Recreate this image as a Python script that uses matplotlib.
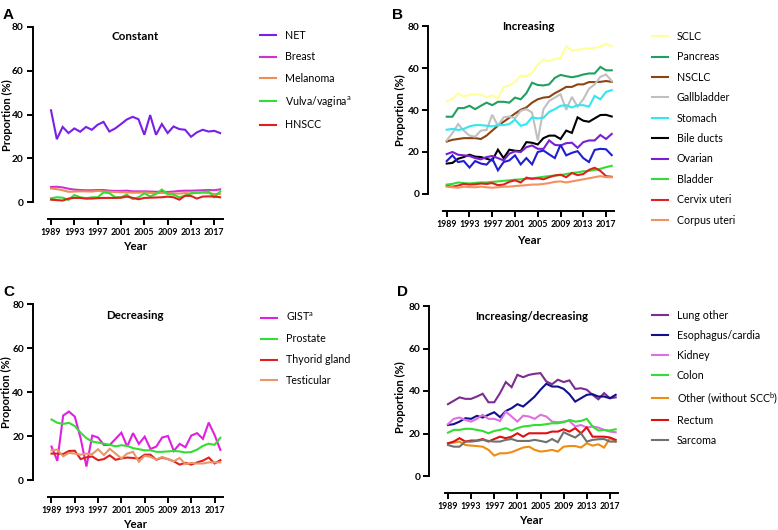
import matplotlib
matplotlib.use("Agg")
import matplotlib.pyplot as plt
import numpy as np

plt.rcParams['font.family'] = ['Lato', 'DejaVu Sans']
plt.rcParams['mathtext.fontset'] = 'custom'
plt.rcParams['mathtext.rm'] = 'Lato'
plt.rcParams['mathtext.it'] = 'Lato'

years = list(range(1989, 2019))
xticks = list(range(1989, 2018, 4))
yticks = [0, 20, 40, 60, 80]

# ---- Panel A: Constant ----
a_labels = ["NET", "Breast", "Melanoma", r"Vulva/vagina$^\mathrm{a}$", "HNSCC"]
a_net = [42, 28.8, 34.4, 31.6, 33.7, 32.2, 34.4, 33.1, 35.4, 36.7, 32.3, 33.7, 35.7, 37.8, 39,
         37.9, 30.8, 39.8, 30.8, 35.7, 31.6, 34.6, 33.4, 33.1, 29.9, 31.9, 33.1, 32.3, 32.6, 31.6]
a_breast = [7.0, 7.1, 6.8, 6.2, 5.8, 5.6, 5.5, 5.5, 5.6, 5.6, 5.3, 5.2, 5.2, 5.3, 5.0,
            5.0, 5.0, 4.9, 4.8, 4.8, 4.7, 4.9, 5.2, 5.3, 5.3, 5.4, 5.5, 5.6, 5.5, 5.9]
a_melanoma = [6.3, 6.0, 5.5, 4.8, 4.9, 5.0, 5.0, 4.9, 5.2, 5.0, 4.8, 4.7, 4.6, 4.5, 4.4,
              4.4, 4.5, 4.3, 4.2, 4.3, 4.1, 4.0, 4.0, 4.2, 4.0, 4.3, 4.5, 4.2, 3.8, 3.9]
a_vulva = [1.8, 2.3, 2.1, 1.1, 3.3, 2.3, 1.8, 2.3, 2.3, 4.5, 4.2, 2.3, 2.3, 3.5, 1.5,
           2.3, 4.1, 2.7, 3.8, 5.8, 3.8, 3.5, 2.3, 3.0, 4.1, 4.4, 4.5, 5.0, 2.3, 5.0]
a_hnscc = [1.2, 1.0, 0.8, 1.7, 2.0, 2.0, 1.7, 1.7, 1.9, 2.0, 2.0, 2.0, 2.1, 2.6, 2.0,
           1.4, 2.0, 2.1, 2.2, 2.3, 2.6, 2.3, 1.2, 3.0, 2.9, 1.7, 2.6, 2.7, 2.6, 2.3]
a_series = [a_net, a_breast, a_melanoma, a_vulva, a_hnscc]
a_colors = ["#7a1fe6", "#cc33cc", "#f08c5a", "#33dd33", "#e02020"]

# ---- Panel B: Increasing ----
b_labels = ["SCLC", "Pancreas", "NSCLC", "Gallbladder", "Stomach", "Bile ducts",
            "Ovarian", None, "Bladder", "Cervix uteri", "Corpus uteri"]
b_sclc = [44, 45.4, 47.8, 46.4, 47.2, 47.5, 47.3, 46.2, 47.0, 45.4, 51, 51.7, 53.3, 56.4, 56.1,
          57.7, 61.6, 64, 63.2, 64.3, 64.8, 70.3, 68.2, 68.7, 69.2, 69.3, 69.5, 70.3, 71.5, 70.3]
b_pancreas = [36.8, 36.8, 40.9, 40.9, 42, 40.4, 42, 43.5, 42.3, 43.9, 43.9, 43.5, 45.9, 45.1, 48,
              53, 51.9, 51.7, 52.2, 55.3, 56.7, 56.1, 55.6, 56.1, 56.9, 57.4, 57.4, 60.5, 58.9, 58.9]
b_nsclc = [25, 25.8, 26.2, 26.6, 26.6, 26.6, 26.2, 27.8, 30.2, 32.5, 34.4, 36.3, 38.3, 40.1, 41.2,
           43.5, 45.1, 45.9, 46.2, 48, 49.4, 51, 51, 52.2, 52.2, 53.3, 53.3, 53.4, 53.8, 53.4]
b_gall = [25.5, 29, 33.3, 30.2, 27.8, 27.3, 30.2, 30.5, 37.7, 32.5, 36.5, 36.9, 36.1, 39.6, 40.4,
          38.8, 25.5, 40.4, 44.3, 45.9, 47.5, 40.1, 46.2, 41.6, 45.1, 50.1, 52.2, 55.8, 56.9, 53.8]
b_stomach = [30.6, 31, 30.5, 31, 32.2, 32.8, 32.8, 32.5, 32.2, 32.8, 32.8, 33.3, 35.4, 32.5, 33.3,
             36.5, 36, 36.3, 39.1, 40.4, 42, 42.3, 41.2, 42.3, 42.3, 41.6, 46.7, 45.1, 48.6, 49.5]
b_bile = [14.5, 14.8, 16.8, 17.6, 18.7, 17.8, 17.6, 16.8, 16, 21.1, 17.1, 21.1, 20.6, 20.4, 24.7,
          24.4, 23.6, 26.6, 27.8, 27.8, 26.2, 30.2, 29.1, 36.5, 34.9, 34.4, 36, 37.6, 37.7, 36.9]
b_ovarian = [19, 20, 18.7, 18.4, 18.1, 17.1, 16.5, 17.6, 18.1, 17.1, 16, 19.2, 20.3, 20, 22.3,
             23.1, 21.5, 21.5, 25.5, 23.4, 23.1, 24.2, 24.4, 22, 24.7, 25.5, 25.5, 28.1, 26.2, 28.6]
b_blue = [15.7, 18.4, 15.2, 15.7, 12.6, 15.7, 14.5, 14, 16.8, 11.3, 15.2, 16, 18.4, 14.1, 17.1,
          14.1, 20, 20.7, 18.9, 17.1, 23.4, 18.4, 19.6, 20.4, 17.1, 15.2, 21.0, 21.5, 21.3, 18.5]
b_bladder = [4.5, 4.8, 5.5, 5.2, 5.0, 5.3, 5.5, 5.5, 5.8, 6.0, 6.3, 6.5, 6.8, 7.0, 7.2,
             7.5, 7.8, 8.2, 8.5, 8.8, 9.0, 9.5, 10.0, 10.3, 10.8, 11.0, 11.5, 12.0, 12.8, 13.4]
b_cervix = [3.8, 3.5, 4.0, 4.8, 4.5, 4.6, 5.0, 4.8, 5.2, 4.2, 4.5, 5.8, 6.5, 5.5, 7.8,
            7.2, 7.5, 7.0, 8.0, 8.8, 9.2, 8.0, 10.0, 9.0, 9.5, 11.5, 12.5, 11.0, 8.5, 8.2]
b_corpus = [3.5, 3.2, 3.0, 3.5, 3.3, 3.2, 3.5, 3.2, 3.0, 3.2, 3.5, 3.5, 3.8, 4.0, 4.2,
            4.5, 4.5, 4.8, 5.2, 5.8, 6.0, 5.5, 6.0, 6.5, 7.0, 7.5, 8.0, 8.5, 8.0, 8.0]
b_series = [b_sclc, b_pancreas, b_nsclc, b_gall, b_stomach, b_bile, b_ovarian, b_blue,
            b_bladder, b_cervix, b_corpus]
b_colors = ["#ffff99", "#20a060", "#8b4513", "#c0c0c0", "#33e6f0", "#000000",
            "#7a1fd6", "#1f1fd0", "#33dd33", "#e02020", "#f59060"]

# ---- Panel C: Decreasing ----
c_labels = [r"GIST$^\mathrm{a}$", "Prostate", "Thyorid gland", "Testicular"]
c_gist = [15.2, 8.7, 29.3, 31.1, 28.8, 19, 6.1, 20.2, 19.3, 15.9, 15.9, 18.7, 21.5, 15.2, 21.3,
          16.4, 19.7, 14.1, 15.2, 19.3, 20, 13.2, 16.4, 14.9, 20.2, 21.3, 18.7, 26.1, 20.5, 13.7]
c_prostate = [27.5, 26, 25.5, 26, 24.5, 21.5, 19, 17.5, 17, 16.5, 16, 15.3, 15.8, 15.5, 14.5,
              14, 13.5, 13.5, 12.8, 12.8, 13, 13.2, 13, 12.5, 12.7, 13.8, 15.5, 16.5, 16, 19.2]
c_thyroid = [12, 12, 11.8, 13.2, 13.3, 9.5, 10.3, 10.7, 9, 9.5, 11.2, 9.2, 9.8, 10.2, 10,
             9.7, 11.5, 11.5, 9.2, 10.2, 9.5, 8.5, 7, 7.8, 7, 8, 8.8, 10.2, 7.5, 9]
c_testicular = [13.5, 13.8, 10.8, 12.3, 12, 11.5, 12, 11.8, 14, 11.3, 14.2, 12, 9.8, 12, 12.8,
                8.3, 11, 10.5, 9.3, 10.5, 9.5, 8.5, 10, 7.2, 7.8, 7.5, 7.5, 8, 8, 8]
c_series = [c_gist, c_prostate, c_thyroid, c_testicular]
c_colors = ["#e020e0", "#33dd33", "#e02020", "#e89868"]

# ---- Panel D: Increasing/decreasing ----
d_labels = ["Lung other", "Esophagus/cardia", "Kidney", "Colon",
            r"Other (without SCC$^\mathrm{b}$)", "Rectum", "Sarcoma"]
d_lung = [33.8, 35.4, 37, 36.3, 36.3, 37.4, 38.7, 34.7, 34.7, 39, 44.2, 41.8, 47.6, 46.5, 47.6,
          48.1, 48.4, 44.5, 43.2, 45.3, 44.2, 45, 41, 41.3, 40.6, 38.2, 36.1, 39, 36.6, 37]
d_esoph = [24, 24.4, 25.6, 27.2, 26.9, 28.3, 27.5, 28.8, 30, 27.7, 30.6, 31.9, 33.8, 32.7, 35,
           37.4, 40.6, 43.4, 42.1, 42.1, 41, 38.5, 35, 36.6, 38.2, 38.5, 37.4, 37.4, 36.6, 38.2]
d_kidney = [24.4, 26.9, 27.5, 26.4, 25.6, 26.9, 28.8, 26.9, 26.9, 25.9, 30.3, 28, 25.6, 28.4, 28,
            26.9, 28.8, 28, 25.6, 25.3, 25.6, 25.9, 23.3, 24, 22.8, 23.3, 22.8, 21.7, 20.9, 20.6]
d_colon = [20.4, 21.7, 21.7, 22.2, 22.2, 21.7, 21.2, 20.1, 21.2, 21.7, 22.5, 21.4, 22.5, 23.3, 23.6,
           24, 24, 24.4, 24.8, 24.8, 25.3, 26.4, 25.6, 25.9, 26.9, 23.3, 21.4, 21.7, 21.4, 22]
d_other = [15.4, 15.7, 16.2, 14.6, 14.3, 14.1, 13.8, 12.3, 9.6, 10.7, 10.7, 11.2, 12.3, 13.4, 13.8,
           12.3, 11.5, 11.8, 12.3, 11.5, 13.8, 14.1, 14.1, 13.4, 15.4, 14.3, 14.9, 13.4, 17.8, 16.2]
d_rectum = [15.4, 16.2, 17.8, 16.2, 16.7, 16.7, 17.4, 16.2, 17.4, 18.5, 17.8, 18.5, 20.1, 18.5, 20.1,
            20.1, 20.1, 20.1, 20.9, 20.9, 22, 20.9, 22.5, 20.1, 22.9, 18.5, 18.5, 18.5, 18.1, 17]
d_sarcoma = [14.6, 13.8, 13.8, 16.2, 16.2, 16.5, 17, 16.5, 16.2, 16.2, 17, 17.4, 16.5, 16.5, 16.5,
             17, 16.5, 15.9, 17.4, 15.9, 20.6, 19.3, 18.1, 20.1, 16.2, 17, 17.3, 17.4, 16.2, 16.2]
d_series = [d_lung, d_esoph, d_kidney, d_colon, d_other, d_rectum, d_sarcoma]
d_colors = ["#7b2d90", "#10108f", "#e070e0", "#33dd33", "#f08c10", "#e01010", "#707070"]

W, H = 778, 530
fig = plt.figure(figsize=(W / 100, H / 100), dpi=100)


def px_axes(left, right, top, bottom):
    return fig.add_axes([left / W, 1 - bottom / H, (right - left) / W, (bottom - top) / H])


panels = [
    dict(box=(47.5, 222.5, 27, 202.3), title="Constant", ty=0.943, letter="A", lxy=(3, 15),
         ylab=(7, 115), xlab=(135, 247), leg=(260, 30, 0.97), labels=a_labels, series=a_series, colors=a_colors),
    dict(box=(443.3, 614, 26, 194), title="Increasing", ty=1.0, letter="B", lxy=(392, 15),
         ylab=(400, 110), xlab=(529, 240), leg=(652, 31, 0.88), labels=b_labels, series=b_series, colors=b_colors),
    dict(box=(48, 222.7, 304, 480), title="Decreasing", ty=0.933, letter="C", lxy=(3, 292),
         ylab=(6, 392), xlab=(135, 525), leg=(261, 311, 0.93), labels=c_labels, series=c_series, colors=c_colors),
    dict(box=(444.5, 618, 306, 476), title="Increasing/decreasing", ty=0.937, letter="D", lxy=(397, 292),
         ylab=(400, 397), xlab=(531, 520), leg=(652, 310, 0.84), labels=d_labels, series=d_series, colors=d_colors),
]

for p in panels:
    ax = px_axes(*p["box"])
    handles = []
    labs = []
    for vals, col, lab in zip(p["series"], p["colors"], p["labels"]):
        ln, = ax.plot(years, vals, color=col, lw=1.5, solid_joinstyle='miter')
        if lab is not None:
            handles.append(ln)
            labs.append(lab)
    ax.set_xlim(1988.4, 2018.4)
    ax.set_ylim(0, 80)
    ax.set_xticks(xticks)
    ax.set_yticks(yticks)
    for s in ("top", "right"):
        ax.spines[s].set_visible(False)
    ax.spines["left"].set_position(("outward", 10.8))
    ax.spines["bottom"].set_position(("outward", 12.2))
    ax.spines["left"].set_linewidth(1.4)
    ax.spines["bottom"].set_linewidth(1.4)
    ax.tick_params(axis="both", length=4, width=1.4, pad=2.5)
    ax.tick_params(axis="x", labelsize=6.3)
    ax.tick_params(axis="y", labelsize=7.3)
    for t in ax.get_xticklabels() + ax.get_yticklabels():
        t.set_fontweight("bold")
    ax.patch.set_alpha(0)
    ax.text(0.5, p["ty"], p["title"], transform=ax.transAxes, ha="center", va="center",
            fontsize=8.3, fontweight="bold")
    fig.text(p["lxy"][0] / W, 1 - p["lxy"][1] / H, p["letter"], fontsize=11, fontweight="bold",
             family=["Liberation Sans", "DejaVu Sans"], ha="left", va="center")
    fig.text(p["ylab"][0] / W, 1 - p["ylab"][1] / H, "Proportion (%)", rotation=90,
             ha="center", va="center", fontsize=8, fontweight="bold")
    fig.text(p["xlab"][0] / W, 1 - p["xlab"][1] / H, "Year", ha="center", va="center",
             fontsize=8.3, fontweight="bold")
    lx, ly, lsp = p["leg"]
    fig.legend(handles, labs, loc="upper left", bbox_to_anchor=(lx / W, 1 - ly / H),
               bbox_transform=fig.transFigure, frameon=False, fontsize=7.7,
               handlelength=1.45, handletextpad=0.85, labelspacing=lsp,
               borderpad=0, borderaxespad=0)

fig.savefig("out.png", dpi=100)
